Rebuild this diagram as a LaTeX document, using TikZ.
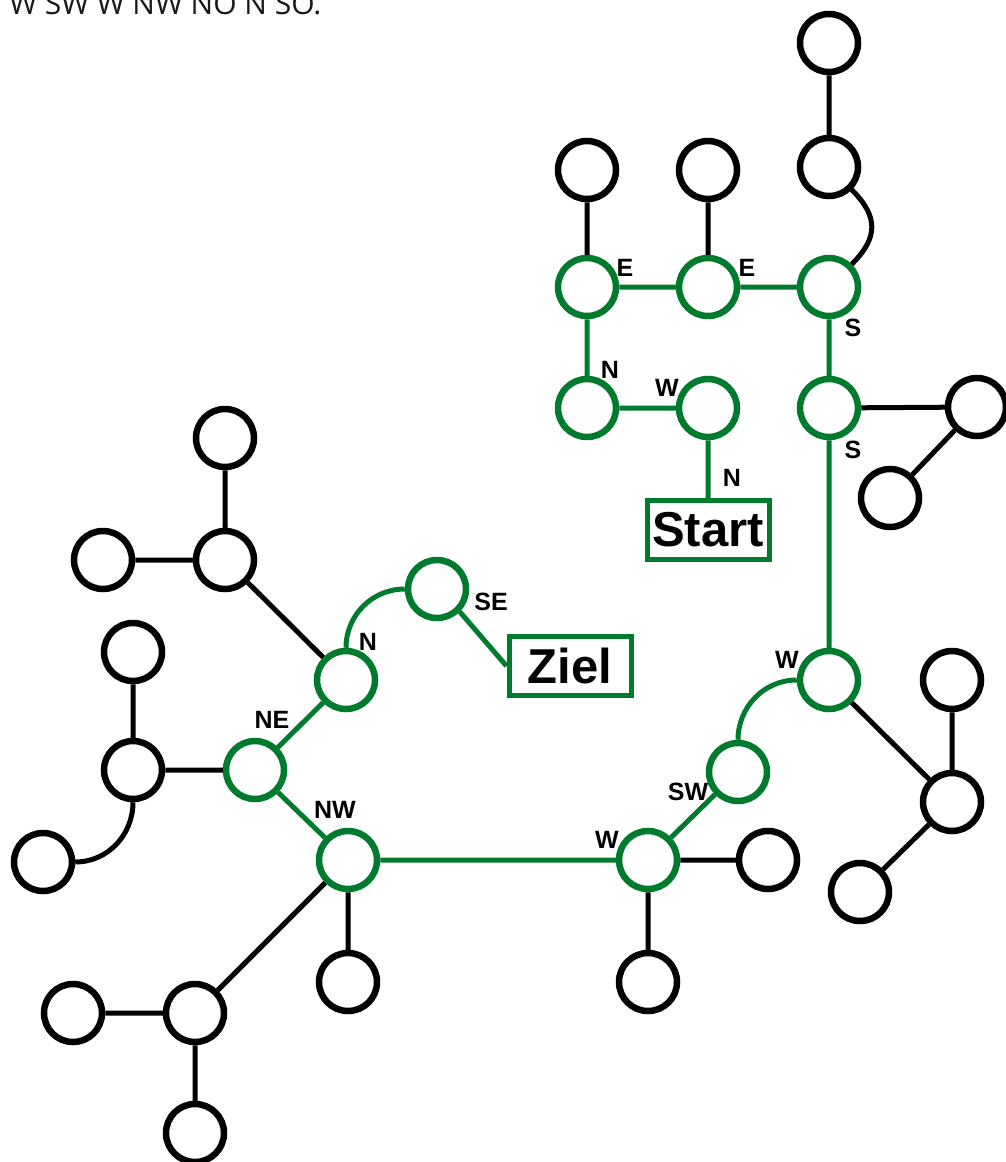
\documentclass[tikz,border=0pt]{standalone}
\usepackage{fontspec}
\setmainfont{Liberation Sans}
\newfontfamily\headfont{Open Sans}
\definecolor{pathgreen}{RGB}{0,122,45}
\tikzset{
  dir/.style={rectangle,draw=none,minimum size=0pt,inner sep=0pt,
    font=\fontsize{25}{25}\selectfont\bfseries},
  onpath/.style={draw=pathgreen},
  goal/.style={rectangle,draw=pathgreen,line width=5pt,minimum width=122pt,
    minimum height=59pt,font=\fontsize{49}{49}\selectfont\bfseries},
  link/.style={line width=5pt},
  pathlink/.style={line width=5pt,draw=pathgreen}
}
\begin{document}
\begin{tikzpicture}[x=1pt,y=1pt,every node/.style={circle,draw,line width=6.5pt,minimum size=58pt,inner sep=0}]
  \path[use as bounding box] (0,0) rectangle (1005,-1162);
  \node[draw=none,rectangle,minimum size=0pt,anchor=base west,text=black!90,
    font=\headfont\fontsize{30}{30}\selectfont] (head) at (6,-14) {W SW W NW NO N SO.};

  % found way
  \node[onpath,label={[dir,shift={(38,19)}]center:E}] (g1) at (587,-287) {};
  \node[onpath,label={[dir,shift={(39,19)}]center:E}] (g2) at (708,-287) {};
  \node[onpath,label={[dir,shift={(24,-41)}]center:S}] (g3) at (829,-287) {};
  \node[onpath,label={[dir,shift={(23,38)}]center:N}] (g4) at (587,-408) {};
  \node[onpath,label={[dir,shift={(-41,20)}]center:W}] (g5) at (708,-408) {};
  \node[onpath,label={[dir,shift={(24,-42)}]center:S}] (g6) at (829,-408) {};
  \node[onpath,label={[dir,shift={(-42,20)}]center:W}] (g7) at (829,-680) {};
  \node[onpath,label={[dir,shift={(-50,-20)}]center:SW}] (g8) at (738,-772) {};
  \node[onpath,label={[dir,shift={(-41,20)}]center:W}] (g9) at (648,-860) {};
  \node[onpath,label={[dir,shift={(-13,50)}]center:NW}] (g10) at (348,-860) {};
  \node[onpath,label={[dir,shift={(17,50)}]center:NE}] (g11) at (255,-770) {};
  \node[onpath,label={[dir,shift={(22,38)}]center:N}] (g12) at (346,-680) {};
  \node[onpath,label={[dir,shift={(54,-13)}]center:SE}] (g13) at (437,-589) {};
  \node[goal,label={[dir,shift={(24,52)}]center:N}] (start) at (708,-530) {Start};
  \node[goal] (ziel) at (570,-666) {Ziel};

  % other nodes
  \node (t1) at (829,-43) {};
  \node (t2) at (829,-167) {};
  \node (a) at (587,-170) {};
  \node (b) at (708,-170) {};
  \node (r1) at (977,-407) {};
  \node (r2) at (890,-498) {};
  \node (c1) at (952,-680) {};
  \node (c2) at (952,-802) {};
  \node (c3) at (860,-892) {};
  \node (w1) at (768,-860) {};
  \node (w2) at (648,-982) {};
  \node (d1) at (348,-982) {};
  \node (e1) at (73,-1013) {};
  \node (e2) at (195,-1013) {};
  \node (e3) at (195,-1133) {};
  \node (m1) at (133,-652) {};
  \node (m2) at (133,-770) {};
  \node (m3) at (43,-862) {};
  \node (u1) at (225,-438) {};
  \node (u2) at (225,-560) {};
  \node (u3) at (103,-560) {};

  \draw[link] (t1) -- (t2) (a) -- (g1) (b) -- (g2) (g6) -- (r1) (r1) -- (r2)
    (g7) -- (c2) (c1) -- (c2) (c2) -- (c3) (g9) -- (w1) (g9) -- (w2)
    (g10) -- (d1) (g10) -- (e2) (e1) -- (e2) (e2) -- (e3)
    (g11) -- (m2) (m1) -- (m2) (g12) -- (u2) (u1) -- (u2) (u3) -- (u2);
  \draw[link] (t2) to[out=-45,in=45,looseness=1.3] (g3);
  \draw[link] (m2) to[out=-90,in=0] (m3);

  \draw[pathlink] (g1) -- (g2) (g2) -- (g3) (g1) -- (g4) (g4) -- (g5) (g5) -- (start)
    (g3) -- (g6) (g6) -- (g7) (g8) -- (g9) (g9) -- (g10) (g10) -- (g11) (g11) -- (g12)
    (g13.-45) -- (ziel.west);
  \draw[pathlink] (g7) to[out=180,in=90] (g8);
  \draw[pathlink] (g12) to[out=90,in=180] (g13);
\end{tikzpicture}
\end{document}
